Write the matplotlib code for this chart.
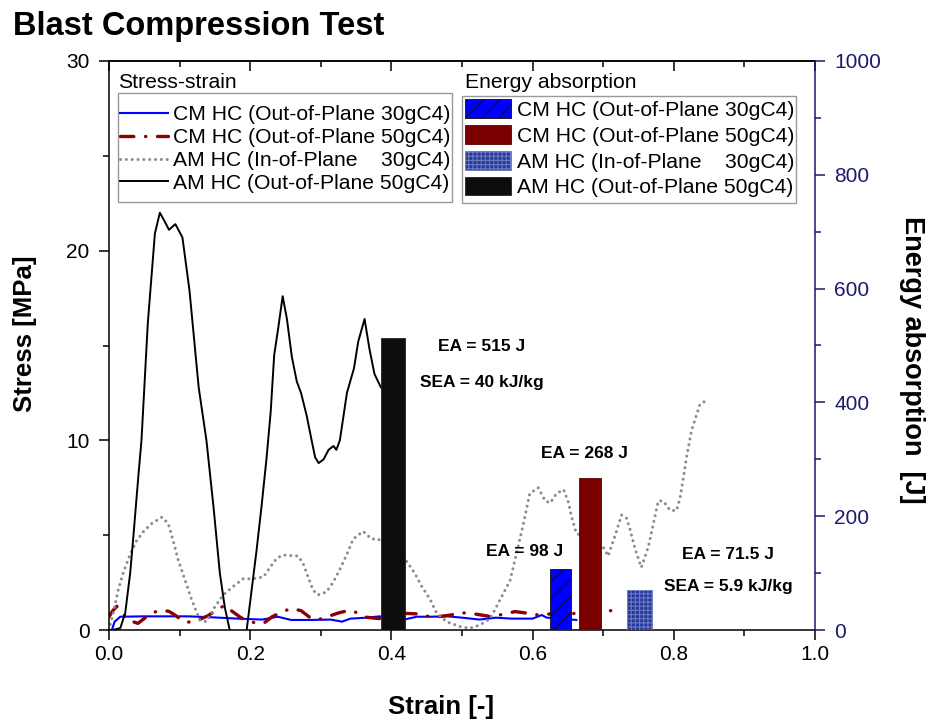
import numpy as np
import matplotlib.pyplot as plt
from matplotlib.ticker import MultipleLocator, FormatStrFormatter
from matplotlib.patches import Rectangle

plt.rcParams['font.family'] = ['Liberation Sans', 'DejaVu Sans']
plt.rcParams['hatch.linewidth'] = 0.8

# stress-strain curves (strain [-], stress [MPa])
cm30_strain = [0.004, 0.008, 0.016, 0.05, 0.112, 0.14, 0.182, 0.217, 0.239, 0.258, 0.286, 0.314,
               0.33, 0.342, 0.365, 0.383, 0.418, 0.436, 0.455, 0.48, 0.5, 0.525, 0.548, 0.57,
               0.6, 0.613, 0.62, 0.64, 0.655, 0.662]
cm30_stress = [0.0, 0.44, 0.7, 0.72, 0.72, 0.68, 0.6, 0.55, 0.7, 0.53, 0.53, 0.55,
               0.44, 0.6, 0.65, 0.72, 0.55, 0.7, 0.7, 0.72, 0.65, 0.55, 0.65, 0.6,
               0.6, 0.79, 0.65, 0.6, 0.55, 0.53]

cm50_strain = [0.0, 0.005, 0.011, 0.018, 0.025, 0.033, 0.041, 0.055, 0.065, 0.075, 0.085, 0.093,
               0.102, 0.11, 0.125, 0.14, 0.152, 0.164, 0.175, 0.185, 0.192, 0.205, 0.219, 0.231,
               0.245, 0.258, 0.272, 0.286, 0.297, 0.309, 0.326, 0.342, 0.355, 0.365, 0.383, 0.418,
               0.441, 0.457, 0.47, 0.484, 0.5, 0.519, 0.542, 0.559, 0.575, 0.59, 0.601, 0.62,
               0.654, 0.67, 0.693, 0.716]
cm50_stress = [0.7, 1.0, 1.25, 0.95, 0.6, 0.45, 0.35, 0.75, 0.95, 1.05, 0.98, 0.8,
               0.55, 0.4, 0.5, 0.75, 1.05, 1.3, 0.97, 0.7, 0.53, 0.4, 0.35, 0.7,
               0.95, 1.14, 1.02, 0.62, 0.55, 0.7, 0.91, 1.05, 0.85, 0.67, 0.6, 0.88,
               0.84, 0.67, 0.72, 0.79, 0.91, 0.84, 0.7, 0.84, 0.97, 0.9, 0.79, 0.84,
               0.84, 0.95, 1.02, 1.02]

am30_strain = [0.0, 0.006, 0.013, 0.02, 0.03, 0.039, 0.049, 0.06, 0.075, 0.084, 0.091, 0.098,
               0.108, 0.117, 0.129, 0.138, 0.15, 0.162, 0.176, 0.19, 0.204, 0.219, 0.228, 0.238,
               0.247, 0.268, 0.275, 0.282, 0.289, 0.296, 0.308, 0.318, 0.327, 0.337, 0.346, 0.36,
               0.372, 0.381, 0.422, 0.433, 0.443, 0.455, 0.464, 0.478, 0.497, 0.511, 0.525, 0.54,
               0.554, 0.568, 0.577, 0.587, 0.596, 0.608, 0.618, 0.625, 0.634, 0.644, 0.651, 0.655,
               0.662, 0.698, 0.707, 0.717, 0.726, 0.733, 0.738, 0.745, 0.754, 0.764, 0.771, 0.778,
               0.785, 0.795, 0.804, 0.809, 0.813, 0.818, 0.825, 0.837, 0.846]
am30_stress = [0.0, 0.9, 2.1, 3.0, 4.0, 4.7, 5.2, 5.6, 5.95, 5.6, 4.7, 3.7,
               2.6, 1.6, 0.5, 0.44, 1.23, 1.85, 2.3, 2.7, 2.7, 2.8, 3.3, 3.8,
               3.95, 3.9, 3.5, 2.8, 2.1, 1.85, 2.0, 2.55, 3.2, 4.0, 4.8, 5.2,
               4.8, 4.8, 3.6, 3.0, 2.3, 1.6, 0.9, 0.44, 0.18, 0.09, 0.26, 0.6,
               1.6, 2.6, 4.0, 5.6, 7.2, 7.5, 6.8, 6.7, 7.2, 7.4, 6.7, 6.0,
               5.1, 4.5, 3.9, 5.0, 6.06, 5.9, 5.3, 4.3, 3.3, 4.4, 5.6, 6.8,
               6.8, 6.3, 6.3, 7.0, 7.9, 9.1, 10.5, 11.9, 12.1]

am50_strain = [0.0, 0.005, 0.016, 0.023, 0.03, 0.034, 0.042, 0.046, 0.055, 0.065, 0.072, 0.078,
               0.085, 0.094, 0.104, 0.114, 0.127, 0.138, 0.148, 0.157, 0.164, 0.171, np.nan,
               0.195, 0.202, 0.209, 0.216, 0.223, 0.229, 0.234, 0.24, 0.246, 0.252, 0.259, 0.266,
               0.272, 0.28, 0.287, 0.292, 0.297, 0.304, 0.311, 0.318, 0.322, 0.327, 0.337, 0.347,
               0.353, 0.362, 0.369, 0.376, 0.385]
am50_stress = [0.0, 0.0, 0.1, 0.9, 3.0, 4.7, 8.3, 10.0, 16.2, 20.9, 22.0, 21.6,
               21.1, 21.4, 20.7, 17.9, 12.8, 10.0, 6.5, 3.0, 1.2, 0.0, np.nan,
               0.0, 2.1, 4.2, 6.5, 9.0, 11.5, 14.5, 16.0, 17.6, 16.4, 14.4, 13.1,
               12.5, 11.3, 10.0, 9.1, 8.8, 9.0, 9.5, 9.7, 9.5, 10.0, 12.5, 13.8,
               15.2, 16.4, 14.8, 13.5, 12.8]

# energy absorption bars
bar_pos = [0.64, 0.681, 0.751, 0.402]
bar_width = [0.03, 0.031, 0.035, 0.034]
bar_energy = [107, 268, 70, 513]

labels = ['CM HC (Out-of-Plane 30gC4)', 'CM HC (Out-of-Plane 50gC4)',
          'AM HC (In-of-Plane    30gC4)', 'AM HC (Out-of-Plane 50gC4)']

navy = '#1a1a6e'
dred = '#8b0000'

W, H = 929, 724
fig = plt.figure(figsize=(W / 100, H / 100), dpi=100)
ax = fig.add_axes([109/W, 94/H, 706/W, 569/H])
ax2 = ax.twinx()


def px(x, y):
    # pixel position in the picture -> axes fraction
    return ((x - 109) / 706, (630 - y) / 569)


l1, = ax.plot(cm30_strain, cm30_stress, color='#0000ff', lw=1.5)
l2, = ax.plot(cm50_strain, cm50_stress, color=dred, lw=2.4,
              linestyle=(0, (4.0, 3.5, 0.1, 3.5)), dash_capstyle='round')
l3, = ax.plot(am30_strain, am30_stress, color='#8c8c8c', lw=2.2,
              linestyle=(0, (0.01, 1.9)), dash_capstyle='round')
l4, = ax.plot(am50_strain, am50_stress, color='black', lw=1.4)

b1 = ax2.bar(bar_pos[0], bar_energy[0], bar_width[0], color='#0000ff', edgecolor='#101010',
             hatch='//', linewidth=0.6)
b2 = ax2.bar(bar_pos[1], bar_energy[1], bar_width[1], color='#7a0000', edgecolor='#5a0000',
             linewidth=0.6)
b3 = ax2.bar(bar_pos[2], bar_energy[2], bar_width[2], color='#26389c', edgecolor='#6a7ac0',
             hatch='++++', linewidth=0.6)
b4 = ax2.bar(bar_pos[3], bar_energy[3], bar_width[3], color='#0d0d0d', edgecolor='#222222',
             linewidth=0.6)

ax.set_xlim(0, 1.0)
ax.set_ylim(0, 30)
ax2.set_ylim(0, 1000)

ax.xaxis.set_major_locator(MultipleLocator(0.2))
ax.xaxis.set_minor_locator(MultipleLocator(0.1))
ax.xaxis.set_major_formatter(FormatStrFormatter('%.1f'))
ax.yaxis.set_major_locator(MultipleLocator(10))
ax.yaxis.set_minor_locator(MultipleLocator(5))
ax2.yaxis.set_major_locator(MultipleLocator(200))
ax2.yaxis.set_minor_locator(MultipleLocator(100))

ax.tick_params(axis='x', which='major', direction='out', length=7, width=1.1, labelsize=15, pad=4)
ax.tick_params(axis='x', which='minor', direction='out', length=4, width=1.1)
ax.tick_params(axis='y', which='major', direction='out', length=7, width=1.1, labelsize=15, pad=7,
               right=False)
ax.tick_params(axis='y', which='minor', direction='out', length=4, width=1.1, right=False)
ax2.tick_params(axis='y', which='major', direction='out', length=7, width=1.1, labelsize=15,
                pad=7, color=navy, labelcolor=navy)
ax2.tick_params(axis='y', which='minor', direction='out', length=4, width=1.1, color=navy)

top = ax.secondary_xaxis('top')
top.xaxis.set_major_locator(MultipleLocator(0.2))
top.xaxis.set_minor_locator(MultipleLocator(0.1))
top.tick_params(which='major', direction='in', length=7, width=1.1, labeltop=False)
top.tick_params(which='minor', direction='in', length=4, width=1.1)
top.spines['top'].set_linewidth(1.1)

for s in ['left', 'bottom', 'top']:
    ax.spines[s].set_linewidth(1.1)
    ax2.spines[s].set_visible(False)
ax.spines['right'].set_visible(False)
ax2.spines['right'].set_color(navy)
ax2.spines['right'].set_linewidth(1.1)

ax.set_xlabel('Strain [-]', fontsize=18.5, fontweight='bold', va='center')
ax.set_ylabel('Stress [MPa]', fontsize=18.5, fontweight='bold', va='center')
ax2.set_ylabel('Energy absorption  [J]', fontsize=19.5, fontweight='bold', rotation=270,
               va='center')
ax.xaxis.set_label_coords(0.47, -0.135)
ax.yaxis.set_label_coords(-0.119, 0.52)
ax2.yaxis.set_label_coords(1.137, 0.475)

fig.text(13/W, 1 - 35/H, 'Blast Compression Test', fontsize=23.5, fontweight='bold',
         va='baseline', ha='left')

# legends: frames drawn by hand, titles sit above the frames as in the original
ax.add_patch(Rectangle(px(118, 202), 334/706, 109/569, transform=ax.transAxes,
                       facecolor='white', edgecolor='#999999', lw=1.0, zorder=4))
ax.add_patch(Rectangle(px(462, 203), 334/706, 107/569, transform=ax.transAxes,
                       facecolor='white', edgecolor='#999999', lw=1.0, zorder=4))

leg_kw = dict(loc='upper left', fontsize=15.2, frameon=False, borderpad=0.3,
              borderaxespad=0)
leg1 = ax.legend([l1, l2, l3, l4], labels, bbox_to_anchor=px(114, 99), labelspacing=0.18,
                 handlelength=2.27, handletextpad=0.24, **leg_kw)
leg1.set_zorder(5)
leg2 = ax2.legend([b1, b2, b3, b4], labels, bbox_to_anchor=px(459, 93), labelspacing=0.24,
                  handlelength=2.18, handleheight=1.0, handletextpad=0.28, **leg_kw)
ax.text(*px(118, 88), 'Stress-strain', transform=ax.transAxes, fontsize=15.2, va='baseline')
ax.text(*px(465, 88), 'Energy absorption', transform=ax.transAxes, fontsize=15.2,
        va='baseline')

# annotations
ann_kw = dict(fontsize=12.5, fontweight='bold', ha='center', va='center')
ax.text(0.528, 14.93, 'EA = 515 J', **ann_kw)
ax.text(0.528, 13.07, 'SEA = 40 kJ/kg', **ann_kw)
ax.text(0.674, 9.28, 'EA = 268 J', **ann_kw)
ax.text(0.589, 4.12, 'EA = 98 J', **ann_kw)
ax.text(0.877, 4.0, 'EA = 71.5 J', **ann_kw)
ax.text(0.877, 2.28, 'SEA = 5.9 kJ/kg', **ann_kw)

fig.savefig('out.png', dpi=100)
